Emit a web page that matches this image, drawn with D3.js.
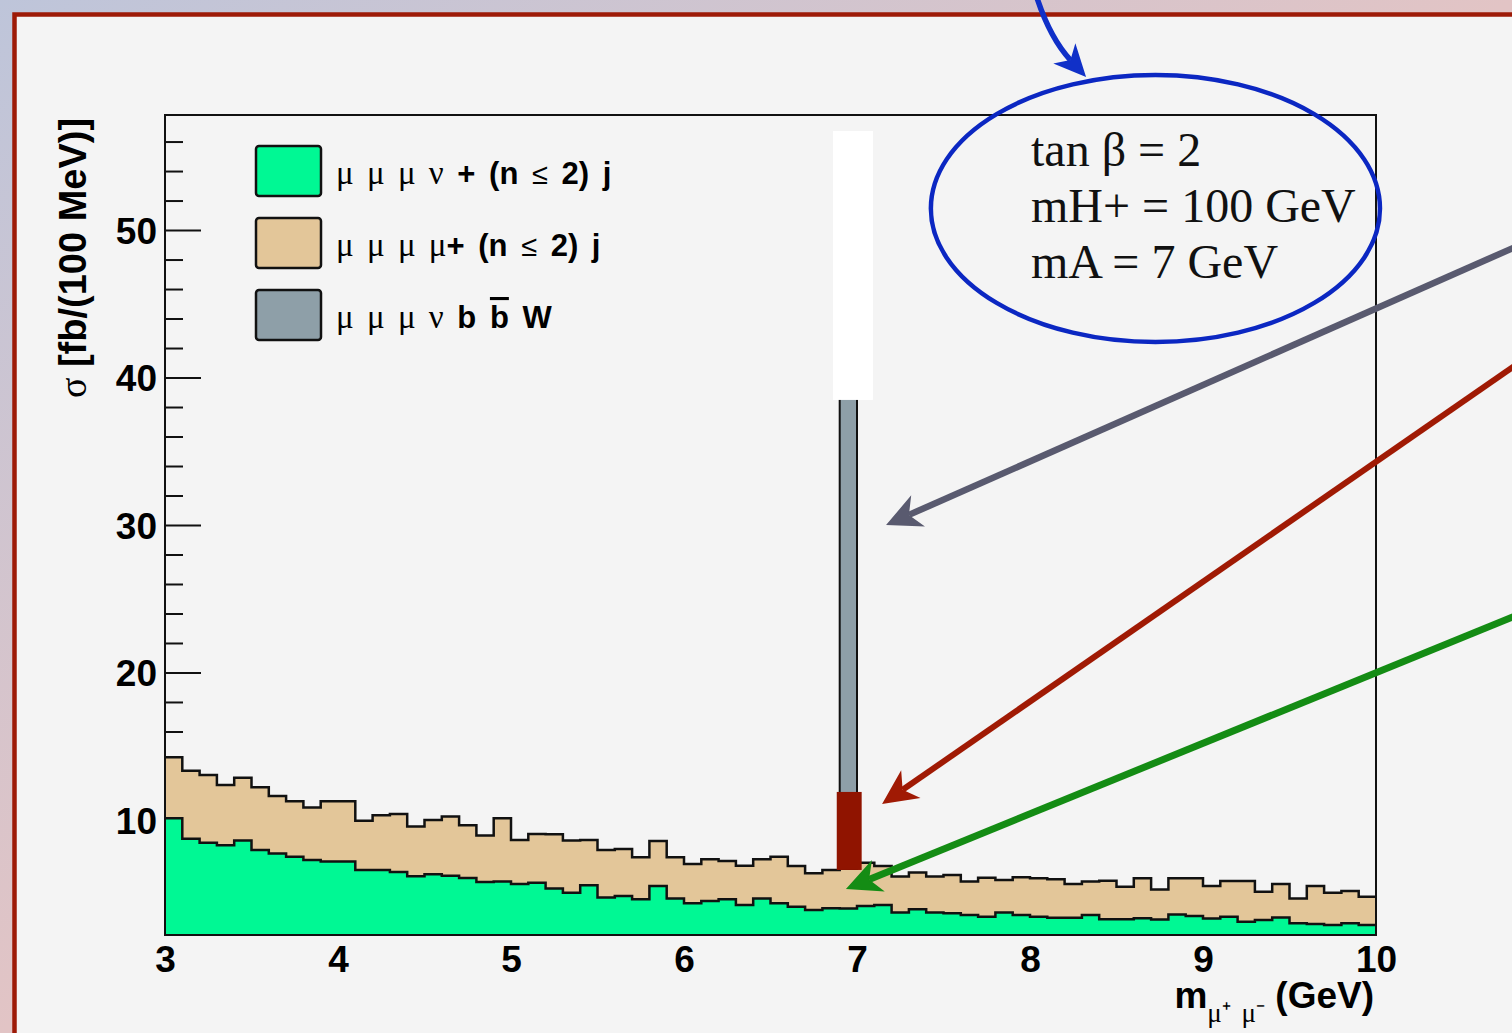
<!DOCTYPE html>
<html>
<head>
<meta charset="utf-8">
<script src="https://cdn.jsdelivr.net/npm/d3@7"></script>
<style>
  body { margin: 0; overflow: hidden; background: #f4f4f4; }
  svg { display: block; }
</style>
</head>
<body>
<div id="chart"></div>
<script>
// low edge of every 100 MeV bin (GeV)
const binLow = [3.0, 3.1, 3.2, 3.3, 3.4, 3.5, 3.6, 3.7, 3.8, 3.9,
  4.0, 4.1, 4.2, 4.3, 4.4, 4.5, 4.6, 4.7, 4.8, 4.9,
  5.0, 5.1, 5.2, 5.3, 5.4, 5.5, 5.6, 5.7, 5.8, 5.9,
  6.0, 6.1, 6.2, 6.3, 6.4, 6.5, 6.6, 6.7, 6.8, 6.9,
  7.0, 7.1, 7.2, 7.3, 7.4, 7.5, 7.6, 7.7, 7.8, 7.9,
  8.0, 8.1, 8.2, 8.3, 8.4, 8.5, 8.6, 8.7, 8.8, 8.9,
  9.0, 9.1, 9.2, 9.3, 9.4, 9.5, 9.6, 9.7, 9.8, 9.9];
const binWidth = 0.1;

// mu mu mu nu + (n<=2) j  (fb / 100 MeV)
const mu3nu = [10.11, 8.73, 8.46, 8.28, 8.60, 7.97, 7.72, 7.51, 7.29, 7.18,
  7.18, 6.61, 6.61, 6.47, 6.18, 6.32, 6.22, 6.07, 5.80, 5.83,
  5.66, 5.75, 5.36, 5.07, 5.57, 4.75, 4.85, 4.62, 5.53, 4.68,
  4.35, 4.51, 4.62, 4.24, 4.68, 4.35, 4.12, 3.90, 4.01, 4.00,
  4.17, 4.24, 3.72, 3.94, 3.72, 3.67, 3.56, 3.44, 3.72, 3.56,
  3.44, 3.37, 3.37, 3.56, 3.27, 3.27, 3.33, 3.25, 3.59, 3.49,
  3.32, 3.43, 3.10, 3.22, 3.39, 3.00, 2.95, 2.88, 3.00, 2.88];

// mu mu mu mu + (n<=2) j, stacked on top
const mu4 = [4.14, 4.61, 4.59, 4.09, 4.27, 4.25, 3.91, 3.76, 3.55, 4.09,
  4.09, 3.34, 3.71, 3.94, 3.37, 3.68, 4.01, 3.57, 3.14, 4.29,
  2.98, 3.30, 3.67, 3.53, 3.07, 3.22, 3.18, 2.85, 3.05, 2.79,
  2.67, 2.82, 2.60, 2.66, 2.65, 3.16, 2.76, 2.49, 2.60, 2.70,
  2.93, 2.64, 2.44, 2.49, 2.44, 2.60, 2.26, 2.65, 2.21, 2.55,
  2.60, 2.61, 2.29, 2.26, 2.61, 2.21, 2.71, 2.04, 2.45, 2.55,
  2.21, 2.43, 2.76, 1.91, 2.27, 1.68, 2.58, 2.19, 2.18, 1.92];

// mu mu mu nu b bbar W signal (only the mA = 7 GeV bin, top hidden on the slide)
const signalBins = [6.9];
const signalValues = [36];

const yMajorTicks = [10, 20, 30, 40, 50];
const yMinorTicks = [4, 6, 8, 12, 14, 16, 18, 22, 24, 26, 28, 32, 34, 36, 38, 42, 44, 46, 48, 52, 54, 56];
const xTicks = [3, 4, 5, 6, 7, 8, 9, 10];

const legendItems = ["mu3nu", "mu4", "signal"];
const colors = { mu3nu: "#00f894", mu4: "#e3c699", signal: "#8e9fa8" };
const paramLines = ["tan \u03b2 = 2", "mH+ = 100 GeV", "mA = 7 GeV"];

const W = 1512, H = 1033;
const sans = "'Liberation Sans', Arial, Helvetica, sans-serif";
const serif = "'Liberation Serif', 'Times New Roman', serif";

const svg = d3.select("#chart").append("svg")
    .attr("width", W)
    .attr("height", H);

const defs = svg.append("defs");
const grad = defs.append("linearGradient").attr("id", "bg")
    .attr("x1", "0").attr("y1", "0").attr("x2", "0.5").attr("y2", "0.5");
grad.append("stop").attr("offset", "0").attr("stop-color", "#bec5da");
grad.append("stop").attr("offset", "1").attr("stop-color", "#e2c4c5");

// slide background + red frame
svg.append("rect").attr("width", W).attr("height", H).attr("fill", "url(#bg)");
svg.append("rect")
    .attr("x", 14.5).attr("y", 14.5)
    .attr("width", W + 40).attr("height", H + 40)
    .attr("fill", "#f4f4f4")
    .attr("stroke", "#9d1a07")
    .attr("stroke-width", 4.5);

const x = d3.scaleLinear().domain([3, 10]).range([165, 1376]);
const y = d3.scaleLinear().domain([2.2, 57.8]).range([935, 115]);

defs.append("clipPath").attr("id", "plotclip")
  .append("rect")
    .attr("x", x(3)).attr("y", y(57.8))
    .attr("width", x(10) - x(3)).attr("height", y(2.2) - y(57.8));

// y axis ticks (inside the frame, drawn under the histograms)
const yMinor = svg.append("g")
    .attr("transform", `translate(${x(3)},0)`)
    .call(d3.axisLeft(y).tickValues(yMinorTicks).tickSizeInner(-18).tickSizeOuter(0).tickFormat(""));
yMinor.select(".domain").remove();
yMinor.selectAll("line").attr("stroke", "#111").attr("stroke-width", 2);

const yMajor = svg.append("g")
    .attr("transform", `translate(${x(3)},0)`)
    .call(d3.axisLeft(y).tickValues(yMajorTicks).tickSizeInner(-36).tickSizeOuter(0).tickPadding(8));
yMajor.select(".domain").remove();
yMajor.selectAll("line").attr("stroke", "#111").attr("stroke-width", 2);
yMajor.selectAll("text")
    .attr("dy", "0.36em")
    .style("font-family", sans)
    .style("font-weight", "bold")
    .style("font-size", "37px")
    .attr("fill", "#000");

const xAxis = svg.append("g")
    .attr("transform", `translate(0,${y(2.2)})`)
    .call(d3.axisBottom(x).tickValues(xTicks).tickSize(0).tickPadding(11).tickFormat(d3.format("d")));
xAxis.select(".domain").remove();
xAxis.selectAll("text")
    .style("font-family", sans)
    .style("font-weight", "bold")
    .style("font-size", "37px")
    .attr("fill", "#000");

// stacked histograms
const rows = binLow.map((lo, i) => ({
  lo: lo,
  mu3nu: mu3nu[i],
  mu4: mu4[i]
}));
const layers = d3.stack().keys(["mu3nu", "mu4"])(rows);

const plot = svg.append("g").attr("clip-path", "url(#plotclip)");

const layerPts = layers.map(layer => {
  const pts = layer.map((d, i) => ({ lo: rows[i].lo, y0: d[0], y1: d[1] }));
  const last = pts[pts.length - 1];
  pts.push({ lo: last.lo + binWidth, y0: last.y0, y1: last.y1 });
  return { key: layer.key, pts: pts };
});

const area = d3.area()
    .curve(d3.curveStepAfter)
    .x(d => x(d.lo))
    .y0(d => y(d.y0))
    .y1(d => y(d.y1));

const topLine = d3.line()
    .curve(d3.curveStepAfter)
    .x(d => x(d.lo))
    .y(d => y(d.y1));

layerPts.forEach(l => {
  plot.append("path").datum(l.pts)
      .attr("d", area)
      .attr("fill", colors[l.key]);
});

// signal bin on top of the background stack
const totalAt = lo => {
  const i = binLow.findIndex(b => Math.abs(b - lo) < 1e-6);
  return mu3nu[i] + mu4[i];
};
plot.selectAll(".sig")
    .data(signalBins.map((lo, i) => ({ lo: lo, base: totalAt(lo), v: signalValues[i] })))
    .enter()
    .append("rect")
    .attr("class", "sig")
    .attr("x", d => x(d.lo))
    .attr("width", d => x(d.lo + binWidth) - x(d.lo))
    .attr("y", d => y(d.base + d.v))
    .attr("height", d => y(d.base) - y(d.base + d.v))
    .attr("fill", colors.signal)
    .attr("stroke", "#111")
    .attr("stroke-width", 2);

layerPts.forEach(l => {
  plot.append("path").datum(l.pts)
      .attr("d", topLine)
      .attr("fill", "none")
      .attr("stroke", "#111")
      .attr("stroke-width", 2.5);
});

// frame
svg.append("rect")
    .attr("x", x(3)).attr("y", y(57.8))
    .attr("width", x(10) - x(3)).attr("height", y(2.2) - y(57.8))
    .attr("fill", "none")
    .attr("stroke", "#111")
    .attr("stroke-width", 2);

// axis titles
const yTitle = svg.append("text")
    .attr("transform", "translate(86,258) rotate(-90)")
    .attr("text-anchor", "middle")
    .style("font-family", sans)
    .style("font-weight", "bold")
    .style("font-size", "38px");
yTitle.append("tspan").style("font-family", serif).style("font-weight", "normal").text("\u03c3");
yTitle.append("tspan").text(" [fb/(100 MeV)]");

const xTitle = svg.append("text")
    .attr("x", 1374).attr("y", 1008)
    .attr("text-anchor", "end")
    .style("font-family", sans)
    .style("font-weight", "bold")
    .style("font-size", "37px");
xTitle.append("tspan").text("m");
xTitle.append("tspan").attr("dy", 14)
    .style("font-family", serif).style("font-weight", "normal").style("font-size", "27px")
    .style("word-spacing", "4px")
    .text("\u03bc\u207a \u03bc\u207b");
xTitle.append("tspan").attr("dy", -14).text(" (GeV)");

// legend
const legend = svg.append("g");
const legendParts = {
  mu3nu: [["\u03bc \u03bc \u03bc \u03bd", "mu"], [" + (n ", "b"], ["\u2264", "le"], [" 2) j", "b"]],
  mu4: [["\u03bc \u03bc \u03bc \u03bc", "mu"], ["+ (n ", "b"], ["\u2264", "le"], [" 2) j", "b"]],
  signal: [["\u03bc \u03bc \u03bc \u03bd", "mu"], [" b ", "b"], ["b", "bar"], [" W", "b"]]
};
legendItems.forEach((k, i) => {
  const top = 146 + i * 72;
  legend.append("rect")
      .attr("x", 256).attr("y", top)
      .attr("width", 65).attr("height", 50)
      .attr("rx", 3)
      .attr("fill", colors[k])
      .attr("stroke", "#111")
      .attr("stroke-width", 2.5);
  const t = legend.append("text")
      .attr("x", 336).attr("y", top + 38)
      .style("font-family", sans)
      .style("font-weight", "bold")
      .style("font-size", "31px")
      .style("word-spacing", "5px");
  legendParts[k].forEach(p => {
    const s = t.append("tspan").text(p[0]);
    if (p[1] === "mu") s.style("font-family", serif).style("font-weight", "normal").style("font-size", "33px").style("word-spacing", "5px");
    if (p[1] === "le") s.style("font-weight", "normal").style("font-size", "29px");
    if (p[1] === "bar") s.style("text-decoration", "overline");
  });
});

// slide annotations
const ann = svg.append("g");
ann.append("rect")
    .attr("x", x(6.861)).attr("y", y(56.72))
    .attr("width", x(7.092) - x(6.861)).attr("height", y(38.48) - y(56.72))
    .attr("fill", "#ffffff");
ann.append("rect")
    .attr("x", x(6.883)).attr("y", y(11.9))
    .attr("width", x(7.027) - x(6.883)).attr("height", y(6.61) - y(11.9))
    .attr("fill", "#901400");

ann.append("ellipse")
    .attr("cx", x(8.725)).attr("cy", y(51.46))
    .attr("rx", x(8.725 + 1.298) - x(8.725))
    .attr("ry", y(51.46 - 9.05) - y(51.46))
    .attr("fill", "none")
    .attr("stroke", "#0b27c2")
    .attr("stroke-width", 4.5);

paramLines.forEach((s, i) => {
  ann.append("text")
      .attr("x", 1031).attr("y", 166 + i * 56)
      .style("font-family", serif)
      .style("font-size", "48px")
      .attr("fill", "#111")
      .text(s);
});

function arrowHead(g, tx, ty, fx, fy, color, L, Wd, notch) {
  const len = Math.hypot(tx - fx, ty - fy);
  const ux = (tx - fx) / len, uy = (ty - fy) / len;
  const nx = -uy, ny = ux;
  const pts = [
    [tx, ty],
    [tx - L * ux + Wd * nx, ty - L * uy + Wd * ny],
    [tx - (L - notch) * ux, ty - (L - notch) * uy],
    [tx - L * ux - Wd * nx, ty - L * uy - Wd * ny]
  ];
  g.append("polygon").attr("points", pts.map(p => p.join(",")).join(" ")).attr("fill", color);
  return [tx - (L - notch) * ux, ty - (L - notch) * uy];
}

const arrows = [
  { x1: 10.832, y1: 48.99, x2: 7.168, y2: 30.0, color: "#595a6f", w: 6.5 },
  { x1: 10.832, y1: 41.05, x2: 7.145, y2: 11.08, color: "#a01a04", w: 6 },
  { x1: 10.832, y1: 23.97, x2: 6.936, y2: 5.32, color: "#148c14", w: 7 }
];
arrows.forEach(a => {
  const end = arrowHead(ann, x(a.x2), y(a.y2), x(a.x1), y(a.y1), a.color, 35, 17, 10);
  ann.append("line")
      .attr("x1", x(a.x1)).attr("y1", y(a.y1))
      .attr("x2", end[0]).attr("y2", end[1])
      .attr("stroke", a.color)
      .attr("stroke-width", a.w);
});

// curved blue arrow pointing at the parameter box
const blue = { sx: 8.035, sy: 65.94, c1x: 8.09, c1y: 63.9, c2x: 8.165, c2y: 62.4, tx: 8.324, ty: 60.38 };
const bend = arrowHead(ann, x(blue.tx), y(blue.ty), x(blue.c2x), y(blue.c2y), "#1030c8", 32, 15, 9);
ann.append("path")
    .attr("d", `M${x(blue.sx)},${y(blue.sy)} C${x(blue.c1x)},${y(blue.c1y)} ${x(blue.c2x)},${y(blue.c2y)} ${bend[0]},${bend[1]}`)
    .attr("fill", "none")
    .attr("stroke", "#1030c8")
    .attr("stroke-width", 5.5);
</script>
</body>
</html>
